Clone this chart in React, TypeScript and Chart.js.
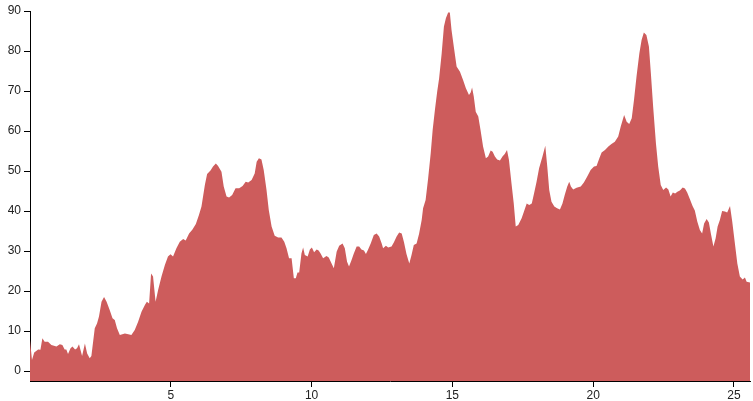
import React, { useEffect, useRef } from 'react';
import { Chart, registerables } from 'chart.js';

Chart.register(...registerables);

const distances = [
  0, 0.07, 0.15, 0.29, 0.37, 0.44, 0.52, 0.64, 0.76, 0.94, 1.06, 1.15, 1.23, 1.29, 1.35, 1.44, 1.51, 1.6, 1.67, 1.74,
  1.85, 1.95, 2.03, 2.12, 2.18, 2.3, 2.38, 2.45, 2.54, 2.63, 2.72, 2.83, 2.93, 3.01, 3.09, 3.19, 3.28, 3.37, 3.49, 3.6,
  3.72, 3.84, 3.96, 4.08, 4.15, 4.23, 4.3, 4.37, 4.46, 4.55, 4.67, 4.79, 4.9, 4.99, 5.08, 5.2, 5.32, 5.44, 5.53, 5.65,
  5.77, 5.89, 6.0, 6.09, 6.21, 6.29, 6.41, 6.5, 6.6, 6.68, 6.8, 6.88, 6.98, 7.07, 7.18, 7.3, 7.43, 7.55, 7.66, 7.75,
  7.87, 7.98, 8.05, 8.13, 8.22, 8.3, 8.4, 8.48, 8.58, 8.69, 8.81, 8.93, 9.03, 9.11, 9.2, 9.29, 9.37, 9.44, 9.5, 9.56,
  9.64, 9.7, 9.76, 9.86, 9.94, 10.01, 10.09, 10.18, 10.25, 10.32, 10.41, 10.53, 10.61, 10.71, 10.79, 10.89, 10.98, 11.1, 11.18, 11.26,
  11.33, 11.42, 11.5, 11.6, 11.69, 11.77, 11.86, 11.93, 12.0, 12.1, 12.21, 12.31, 12.4, 12.49, 12.54, 12.64, 12.72, 12.84, 12.92, 13.02,
  13.11, 13.2, 13.28, 13.37, 13.47, 13.55, 13.63, 13.73, 13.82, 13.91, 13.96, 14.05, 14.14, 14.23, 14.3, 14.38, 14.46, 14.53, 14.62, 14.7,
  14.77, 14.85, 14.91, 14.97, 15.05, 15.15, 15.27, 15.38, 15.48, 15.59, 15.65, 15.7, 15.76, 15.83, 15.92, 16.0, 16.09, 16.19, 16.27, 16.36,
  16.43, 16.51, 16.59, 16.69, 16.78, 16.86, 16.94, 17.01, 17.1, 17.18, 17.25, 17.34, 17.46, 17.54, 17.64, 17.73, 17.82, 17.9, 17.99, 18.08,
  18.2, 18.3, 18.37, 18.44, 18.52, 18.62, 18.72, 18.82, 18.91, 18.99, 19.08, 19.15, 19.21, 19.29, 19.41, 19.56, 19.67, 19.79, 19.91, 20.03,
  20.12, 20.22, 20.3, 20.42, 20.54, 20.65, 20.77, 20.89, 20.98, 21.1, 21.19, 21.28, 21.37, 21.45, 21.54, 21.64, 21.72, 21.8, 21.89, 21.98,
  22.05, 22.13, 22.23, 22.31, 22.4, 22.49, 22.59, 22.67, 22.75, 22.83, 22.91, 22.99, 23.08, 23.18, 23.26, 23.34, 23.44, 23.53, 23.61, 23.7,
  23.79, 23.87, 23.94, 24.03, 24.11, 24.18, 24.27, 24.35, 24.42, 24.5, 24.58, 24.68, 24.76, 24.86, 24.94, 25.04, 25.12, 25.21, 25.31, 25.39,
  25.45, 25.57,
];

const values = [
  7.75, 2.75, 4.6, 5.4, 5.3, 8.2, 7.3, 7.3, 6.5, 6.1, 6.7, 6.5, 5.4, 5.4, 4.25, 5.7, 6.1, 5.4, 5.7, 6.7,
  3.75, 6.9, 4.4, 3.2, 3.75, 10.7, 11.9, 13.6, 17.3, 18.5, 17.3, 15.25, 13.2, 12.75, 10.7, 9.0, 9.2, 9.4, 9.2, 9.0,
  10.25, 12.3, 14.8, 16.5, 17.3, 16.9, 24.4, 23.6, 17.3, 20.25, 23.6, 26.5, 28.6, 29.2, 28.6, 30.7, 32.3, 33.0, 32.6, 34.4,
  35.4, 36.75, 39, 41.1, 46.5, 49.25, 50.1, 51.1, 51.9, 51.25, 49.8, 46.1, 43.6, 43.4, 44.0, 45.7, 45.7, 46.25, 47.3, 47.1,
  47.75, 49.4, 52.3, 53.2, 52.9, 50.25, 45.25, 40.25, 36.1, 33.8, 33.4, 33.4, 32.3, 30.7, 28.2, 28.2, 23.2, 23.2, 24.6, 24.6,
  29.4, 30.9, 29, 28.6, 30.4, 30.9, 29.7, 30.4, 30.1, 29.4, 28.2, 28.75, 28.4, 26.9, 25.7, 29.8, 31.3, 31.9, 30.7, 27.3,
  26.1, 27.75, 29.4, 31.1, 31.1, 30.4, 30.1, 29.25, 30.25, 31.9, 34, 34.4, 33.6, 31.9, 30.7, 31.3, 30.9, 31.1, 32.1, 33.6,
  34.6, 34.4, 32.25, 29.25, 26.9, 29, 31.5, 31.9, 34.4, 37.75, 40.7, 42.75, 48.2, 54.4, 60.25, 65.25, 69.8, 73.2, 79.4, 86.1,
  88.2, 89.6, 89.6, 85.25, 81.1, 76.1, 74.8, 72.75, 70.7, 69, 69.6, 70.9, 68.6, 64.8, 63.6, 60.25, 56.1, 53.2, 53.6, 55.1,
  54.8, 53.6, 52.9, 52.6, 53.6, 54.25, 55.25, 52.75, 46.9, 41.9, 36.1, 36.5, 38.2, 39.8, 41.9, 41.5, 41.9, 44.4, 47.3, 50.7,
  53.6, 56.3, 51.1, 45.25, 42.3, 41.1, 40.7, 40.4, 41.9, 44, 46.1, 47.3, 46.1, 45.4, 45.8, 46.1, 47.1, 48.6, 50.25, 51.1,
  51.25, 53.2, 54.6, 55.25, 56.1, 56.75, 57.3, 58.6, 61.1, 64, 62.3, 61.75, 63.2, 67.75, 73.6, 79.4, 82.75, 84.6, 84, 81.1,
  74.4, 66.1, 56.9, 51.1, 46.5, 45.25, 45.9, 45.4, 43.6, 44.6, 44.4, 44.8, 45.1, 45.9, 45.6, 44.6, 42.9, 41.25, 40.1, 37.3,
  35.25, 34.4, 36.9, 38, 37.1, 34.4, 31.1, 33.2, 36.1, 37.75, 40, 39.9, 39.6, 41.25, 37.3, 31.5, 26.9, 23.6, 22.9, 23.4,
  22.3, 22.1,
];

const xTickValues = [5, 10, 15, 20, 25];
const yTickValues = [0, 10, 20, 30, 40, 50, 60, 70, 80, 90];

const X_MIN = 0;
const X_MAX = 25.57;
const Y_MIN = -2.5;
const Y_MAX = 90;

const FONT = { family: "'Liberation Sans', Arial, sans-serif", size: 12 };

export default function App() {
  const canvasRef = useRef<HTMLCanvasElement | null>(null);

  useEffect(() => {
    const canvas = canvasRef.current;
    if (!canvas) return;
    const points = distances.map((x, i) => ({ x, y: values[i] }));
    const chart = new Chart(canvas, {
      type: 'line',
      data: {
        datasets: [
          {
            data: points,
            backgroundColor: '#cd5c5c',
            borderWidth: 0,
            borderColor: 'rgba(0,0,0,0)',
            pointRadius: 0,
            fill: 'start',
            tension: 0,
          },
        ],
      },
      options: {
        animation: false,
        responsive: false,
        maintainAspectRatio: false,
        layout: { padding: { top: 11, right: 3, left: 0, bottom: 0 } },
        plugins: { legend: { display: false }, tooltip: { enabled: false } },
        scales: {
          x: {
            type: 'linear',
            min: X_MIN,
            max: X_MAX,
            afterBuildTicks: (scale: any) => {
              scale.ticks = xTickValues.map((v) => ({ value: v }));
            },
            afterFit: (scale: any) => {
              scale.height = 20;
            },
            ticks: { color: '#222', font: FONT, padding: 1, maxRotation: 0, autoSkip: false },
            grid: { drawOnChartArea: false, drawTicks: true, tickLength: 6, color: '#000', lineWidth: 1 },
            border: { display: true, color: '#000', width: 1 },
          },
          y: {
            type: 'linear',
            min: Y_MIN,
            max: Y_MAX,
            afterBuildTicks: (scale: any) => {
              scale.ticks = yTickValues.map((v) => ({ value: v }));
            },
            afterFit: (scale: any) => {
              scale.width = 30;
            },
            ticks: { color: '#222', font: FONT, padding: 3, autoSkip: false },
            grid: { drawOnChartArea: false, drawTicks: true, tickLength: 6, color: '#000', lineWidth: 1 },
            border: { display: true, color: '#000', width: 1 },
          },
        },
      },
    });
    return () => chart.destroy();
  }, []);

  return (
    <div style={{ position: 'absolute', left: 0, top: 0, width: 753, height: 401, background: '#fff' }}>
      <canvas ref={canvasRef} width={753} height={401} style={{ width: 753, height: 401, display: 'block' }} />
    </div>
  );
}
